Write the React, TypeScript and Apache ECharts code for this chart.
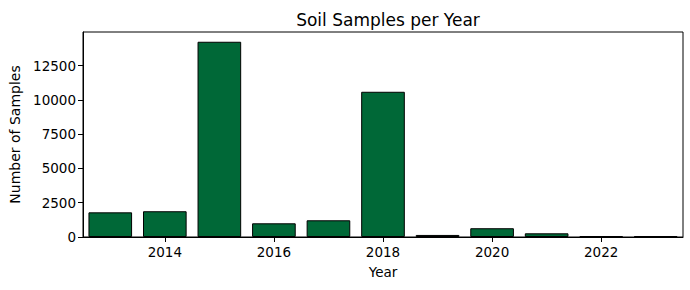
import React, { useEffect, useRef } from "react";
import * as echarts from "echarts";

const years: string[] = ["2013", "2014", "2015", "2016", "2017", "2018", "2019", "2020", "2021", "2022", "2023"];
const samples: number[] = [1800, 1880, 14250, 1000, 1220, 10600, 150, 640, 270, 70, 60];
const yTicks: number[] = [0, 2500, 5000, 7500, 10000, 12500];

export default function App() {
  const ref = useRef<HTMLDivElement>(null);
  useEffect(() => {
    if (!ref.current) return;
    const chart = echarts.init(ref.current, null, { renderer: "svg" });
    const font = "DejaVu Sans";
    const yMax = Math.max(...samples) * 1.05;
    const showEven = (i: number) => Number(years[i]) % 2 === 0;
    chart.setOption({
      animation: false,
      textStyle: { fontFamily: font },
      title: {
        text: "Soil Samples per Year",
        left: 383,
        top: 6,
        textAlign: "center",
        textStyle: { fontFamily: font, fontSize: 17, fontWeight: "normal", color: "#000" },
      },
      grid: {
        left: 83,
        right: 7,
        top: 32,
        bottom: 53,
        containLabel: false,
        outerBoundsMode: "none",
        show: true,
        borderColor: "#000",
        borderWidth: 1,
        backgroundColor: "#fff",
      },
      xAxis: {
        type: "category",
        data: years,
        name: "Year",
        nameLocation: "middle",
        nameGap: 28,
        nameTextStyle: { fontFamily: font, fontSize: 13.5, color: "#000" },
        axisLine: { show: true, lineStyle: { color: "#000", width: 1 } },
        axisTick: { show: true, alignWithLabel: true, interval: (i: number) => showEven(i), length: 5, lineStyle: { color: "#000" } },
        axisLabel: { interval: (i: number) => showEven(i), fontFamily: font, fontSize: 13.5, color: "#000", margin: 8 },
        splitLine: { show: false },
      },
      yAxis: {
        type: "value",
        min: 0,
        max: yMax,
        interval: yTicks[1] - yTicks[0],
        name: "Number of Samples",
        nameLocation: "middle",
        nameGap: 59,
        nameTextStyle: { fontFamily: font, fontSize: 14, color: "#000" },
        axisLine: { show: true, lineStyle: { color: "#000", width: 1 } },
        axisTick: { show: true, length: 5, lineStyle: { color: "#000" } },
        axisLabel: {
          fontFamily: font,
          fontSize: 13.5,
          color: "#000",
          margin: 7,
          showMaxLabel: false,
          formatter: (v: number) => String(Math.round(v)),
        },
        splitLine: { show: false },
      },
      series: [
        {
          type: "bar",
          data: samples,
          barWidth: "80%",
          itemStyle: { color: "#006837", borderColor: "#000", borderWidth: 1 },
        },
      ],
    });
    return () => chart.dispose();
  }, []);
  return <div ref={ref} style={{ width: 690, height: 290, position: "absolute", left: 0, top: 0 }} />;
}
